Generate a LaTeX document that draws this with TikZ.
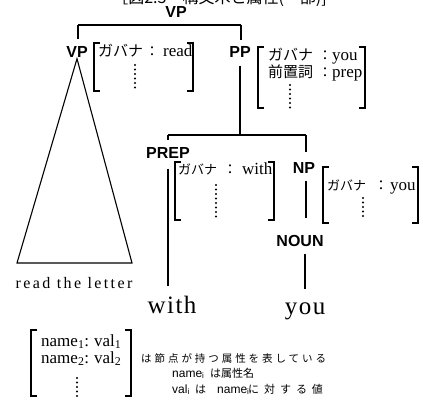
\documentclass[tikz,border=0pt]{standalone}
\usepackage{fontspec}
\setmainfont{Liberation Serif}
\newfontfamily\jp{Noto Sans CJK JP}
\newfontfamily\jpwide[LetterSpace=28]{Noto Sans CJK JP}
\newfontfamily\jpwider[LetterSpace=45]{Noto Sans CJK JP}
\newfontfamily\lab{Liberation Sans}
\newfontfamily\serifwide[LetterSpace=6]{Liberation Serif}
\newfontfamily\serifread[LetterSpace=15]{Liberation Serif}
\newcommand\brk[4]{% x1 x2 y1 y2
  \draw[ln] (#1+6,#3) -- (#1,#3) -- (#1,#4) -- (#1+6,#4);
  \draw[ln] (#2-6,#3) -- (#2,#3) -- (#2,#4) -- (#2-6,#4);}
\newcommand\dotcol[3]{% x y1 y2
  \pgfmathsetmacro\nd{int(round((#3-#2)/4.5))}%
  \foreach \k in {0,...,\nd} \fill (#1,#2+\k*4.5) circle (1.15pt);}
\begin{document}
\begin{tikzpicture}[x=1pt,y=-1pt,
  ln/.style={line width=1.1pt},
  lbl/.style={font=\lab\bfseries\fontsize{16}{16}\selectfont,inner sep=0pt},
  kana/.style={font=\jp\fontsize{14}{14}\selectfont,inner sep=0pt,anchor=base west},
  colon/.style={font=\jp\fontsize{14}{14}\selectfont,inner sep=0pt,anchor=base},
  val/.style={font=\fontsize{17}{17}\selectfont,inner sep=0pt,anchor=base west},
  big/.style={font=\serifwide\fontsize{25}{25}\selectfont,inner sep=0pt,anchor=base},
  note/.style={font=\jp\fontsize{11}{11}\selectfont,inner sep=0pt,anchor=base west},
  notel/.style={font=\lab\fontsize{12}{12}\selectfont,inner sep=0pt,anchor=base west}]
\useasboundingbox (0,0) rectangle (423,401);
% cut-off caption
\node[font=\jp\fontsize{16}{16}\selectfont,inner sep=0pt,anchor=base east] (cap) at (327,3.5) {［図2.3　構文木と属性(一部)]};
% tree labels
\node[lbl] (vptop) at (176,12) {VP};
\node[lbl] (vp) at (77,52) {VP};
\node[lbl] (pp) at (240,52) {PP};
\node[lbl] (prep) at (168,153) {PREP};
\node[lbl] (np) at (304,168) {NP};
\node[lbl] (noun) at (300,241) {NOUN};
\node[big] (with) at (172,313) {with};
\node[big] (you) at (305,314) {you};
\node[font=\serifread\fontsize{16}{16}\selectfont,inner sep=0pt,anchor=base] (rtl) at (74,288) {read the letter};
% tree connectors
\coordinate (b1l) at (78,25);
\coordinate (b1r) at (241,25);
\coordinate (b2l) at (168,135);
\coordinate (b2r) at (306,135);
\coordinate (tl) at (17,263);
\coordinate (tr) at (132,263);
\draw[ln] (b1l) -- (b1r);
\draw[ln] (b1l) -- ([yshift=7pt]vp.north -| b1l);
\draw[ln] (b1r) -- ([yshift=6pt]pp.north -| b1r);
\draw[ln,line join=miter] ([yshift=-1pt]vp.south) -- (tl) -- (tr) -- cycle;
\draw[ln] ([yshift=-8pt]pp.south) -- (pp.south |- b2l);
\draw[ln] (b2l) -- (b2r);
\draw[ln] (b2l) -- ([yshift=7pt]prep.north -| b2l);
\draw[ln] (b2r) -- ([yshift=10pt]np.north -| b2r);
\draw[ln] ([yshift=-10pt]prep.south) -- ([yshift=9pt]with.north -| prep.south);
\draw[ln] ([yshift=-7pt]np.south -| b2r) -- ([yshift=17pt]noun.north -| b2r);
\draw[ln] ([yshift=-7pt]noun.south -| you) -- ([yshift=13pt]you.north);
% feature structure of VP
\brk{94}{193}{43}{91}
\node[kana,font=\jp\fontsize{15}{15}\selectfont] (f1k) at (98,57) {ガバナ};
\node[colon] (f1c) at (152,57) {：};
\node[val] (f1v) at (163,57) {read};
\dotcol{135}{65}{87}
% feature structure of PP
\brk{258}{365}{47}{108}
\node[kana,font=\jp\fontsize{15}{15}\selectfont] (f2k) at (268,61) {ガバナ};
\node[colon] (f2c) at (325,61) {：};
\node[val] (f2v) at (332,61) {you};
\node[kana,font=\jp\fontsize{15}{15}\selectfont] (f2k2) at (268,78) {前置詞};
\node[colon] (f2c2) at (325,78) {：};
\node[val] (f2v2) at (332,78) {prep};
\dotcol{290}{85}{107}
% feature structure of PREP
\brk{175}{274}{162}{220}
\node[kana,font=\jp\fontsize{13}{13}\selectfont] (f3k) at (178,175) {ガバナ};
\node[colon] (f3c) at (230,175) {：};
\node[val] (f3v) at (242,175) {with};
\dotcol{216}{185}{216}
% feature structure of NP
\brk{323}{418}{167}{223}
\node[kana,font=\jp\fontsize{13}{13}\selectfont] (f4k) at (327,190) {ガバナ};
\node[colon] (f4c) at (381,190) {：};
\node[val] (f4v) at (390,190) {you};
\dotcol{363}{198}{218}
% legend
\brk{31}{131}{330}{396}
\node[val] (l1n) at (41,346) {name\textsubscript{1}:};
\node[val] (l1v) at (94,346) {val\textsubscript{1}};
\node[val] (l2n) at (41,363) {name\textsubscript{2}:};
\node[val] (l2v) at (94,363) {val\textsubscript{2}};
\dotcol{77}{378}{396}
\node[note,font=\jpwide\fontsize{10.5}{11}\selectfont] (t1) at (141,362) {は節点が持つ属性を表している};
\node[notel] (t2a) at (172,377) {name\textsubscript{i}};
\node[note] (t2b) at (210,377) {は属性名};
\node[notel] (t3a) at (172,393) {val\textsubscript{i}};
\node[note] (t3b) at (195,393) {は};
\node[notel] (t3c) at (217,393) {name\textsubscript{i}};
\node[note,font=\jpwider\fontsize{11}{11}\selectfont] (t3d) at (248,393) {に対する値};
\end{tikzpicture}
\end{document}
